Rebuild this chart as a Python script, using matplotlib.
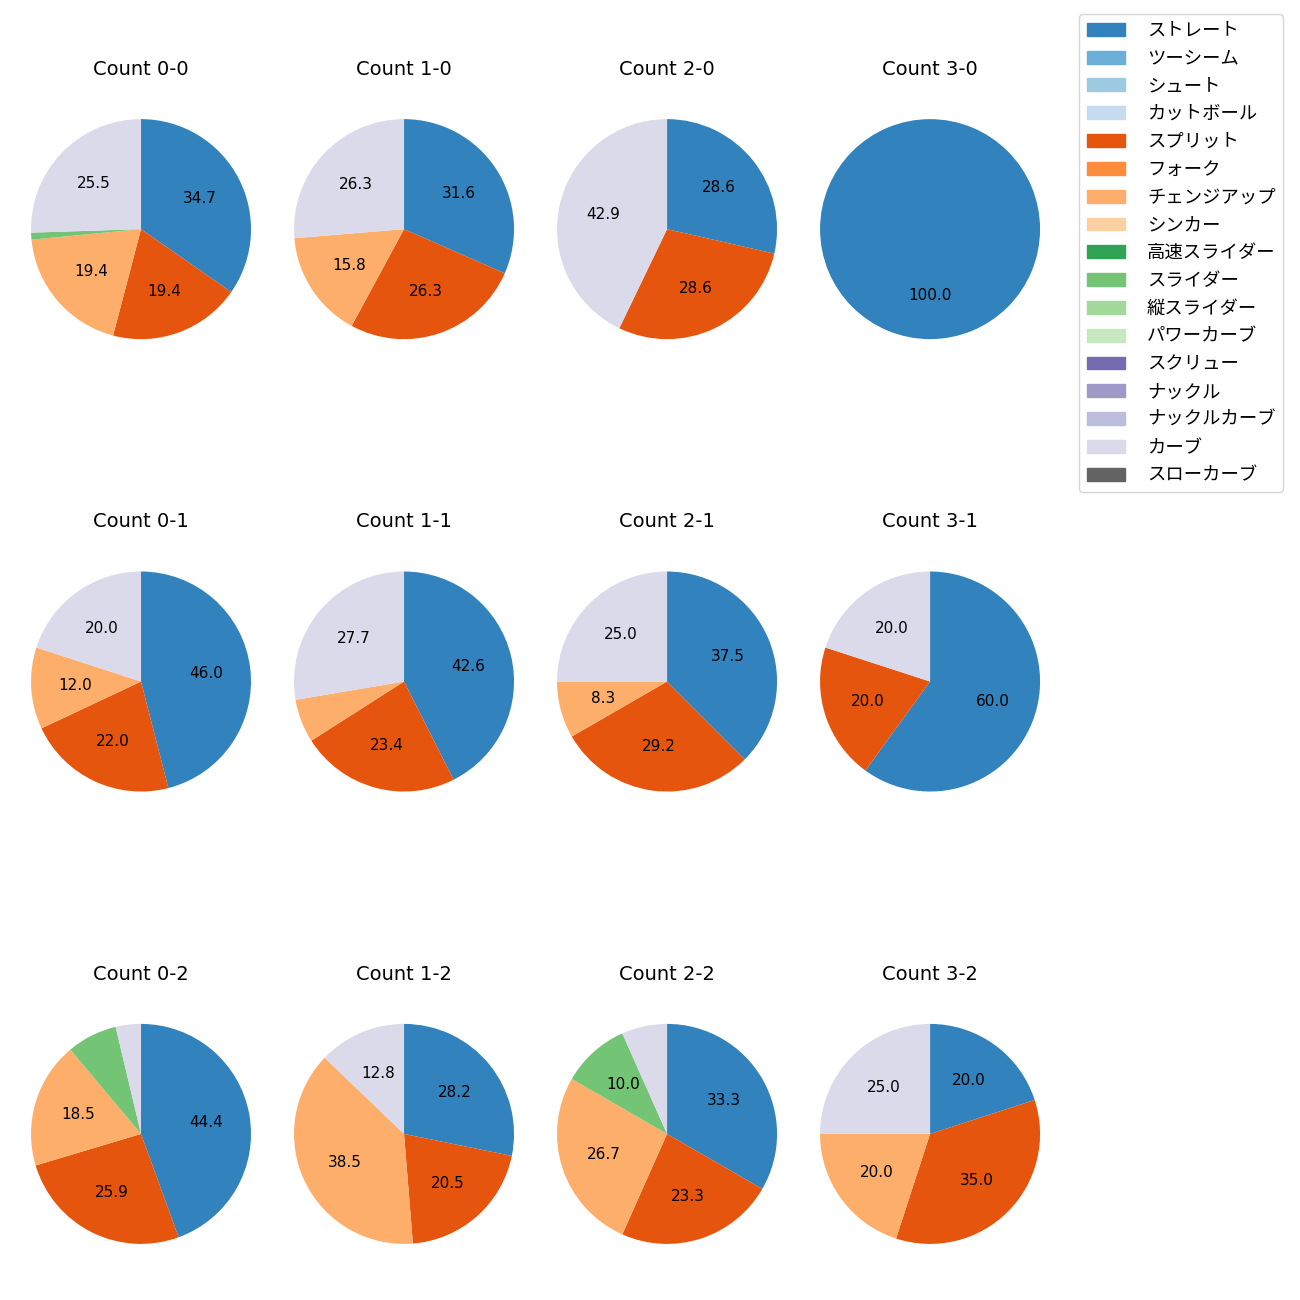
import matplotlib
matplotlib.use("Agg")
import matplotlib.pyplot as plt
from matplotlib.patches import Patch

plt.rcParams['font.family'] = ['DejaVu Sans', 'Noto Sans CJK JP']

pitch_types = ['ストレート', 'ツーシーム', 'シュート', 'カットボール', 'スプリット', 'フォーク',
               'チェンジアップ', 'シンカー', '高速スライダー', 'スライダー', '縦スライダー',
               'パワーカーブ', 'スクリュー', 'ナックル', 'ナックルカーブ', 'カーブ', 'スローカーブ']

# pitch counts per ball-strike count (ball-strike)
counts = {
    '0-0': {'ストレート': 34, 'スプリット': 19, 'チェンジアップ': 19, 'スライダー': 1, 'カーブ': 25},
    '1-0': {'ストレート': 6, 'スプリット': 5, 'チェンジアップ': 3, 'カーブ': 5},
    '2-0': {'ストレート': 2, 'スプリット': 2, 'カーブ': 3},
    '3-0': {'ストレート': 1},
    '0-1': {'ストレート': 23, 'スプリット': 11, 'チェンジアップ': 6, 'カーブ': 10},
    '1-1': {'ストレート': 20, 'スプリット': 11, 'チェンジアップ': 3, 'カーブ': 13},
    '2-1': {'ストレート': 9, 'スプリット': 7, 'チェンジアップ': 2, 'カーブ': 6},
    '3-1': {'ストレート': 3, 'スプリット': 1, 'カーブ': 1},
    '0-2': {'ストレート': 12, 'スプリット': 7, 'チェンジアップ': 5, 'スライダー': 2, 'カーブ': 1},
    '1-2': {'ストレート': 11, 'スプリット': 8, 'チェンジアップ': 15, 'カーブ': 5},
    '2-2': {'ストレート': 10, 'スプリット': 7, 'チェンジアップ': 8, 'スライダー': 3, 'カーブ': 2},
    '3-2': {'ストレート': 4, 'スプリット': 7, 'チェンジアップ': 4, 'カーブ': 5},
}

cmap = plt.get_cmap('tab20c')
colors = {p: cmap(i) for i, p in enumerate(pitch_types)}

fig, axes = plt.subplots(3, 4, figsize=(13, 13))
plt.subplots_adjust(left=0.0027, right=0.8212, top=0.9392, bottom=0.0123,
                    wspace=-0.0436, hspace=0.507)

for s in range(3):
    for b in range(4):
        ax = axes[s, b]
        key = f'{b}-{s}'
        d = counts[key]
        labels = [p for p in pitch_types if p in d]
        vals = [d[p] for p in labels]
        ax.pie(vals, colors=[colors[p] for p in labels], startangle=90, counterclock=False,
               autopct=lambda p: f'{p:.1f}' if p >= 8 else '', textprops={'fontsize': 11})
        ax.set_title(f'Count {key}', fontsize=14, pad=12)

handles = [Patch(color=colors[p], label=p) for p in pitch_types]
fig.legend(handles=handles, loc='upper right', bbox_to_anchor=(0.994, 0.996), fontsize=13.2,
           labelspacing=0.535, handlelength=2.1, handletextpad=1.2)

plt.savefig('out.png', dpi=100)
